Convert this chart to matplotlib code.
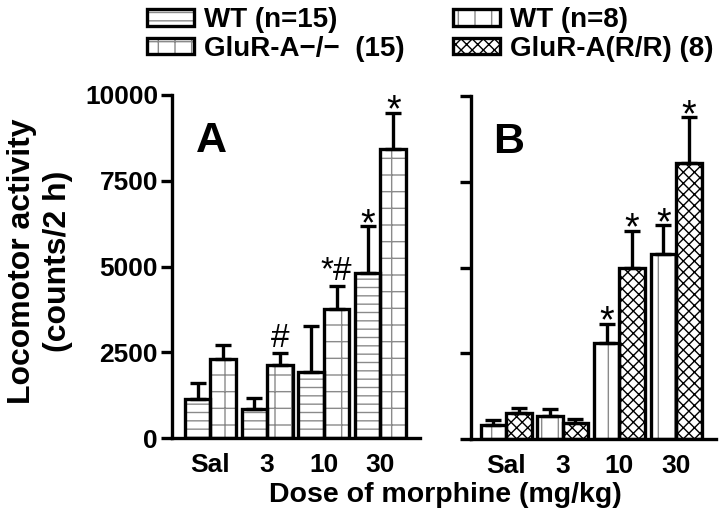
import matplotlib
matplotlib.use("Agg")
import matplotlib.pyplot as plt
import numpy as np

plt.rcParams["font.family"] = ["Liberation Sans", "DejaVu Sans"]
plt.rcParams["hatch.linewidth"] = 1.0

# ---- data --------------------------------------------------------------
doses = ["Sal", "3", "10", "30"]

a_wt = [1136, 854, 1913, 4806]
a_wt_err = [466, 311, 1339, 1378]
a_ko = [2311, 2136, 3757, 8417]
a_ko_err = [398, 340, 660, 1068]

b_wt = [407, 678, 2800, 5397]
b_wt_err = [145, 194, 562, 843]
b_rr = [746, 475, 4990, 8033]
b_rr_err = [165, 106, 1086, 1357]

a_wt_marks = ["", "", "", "*"]
a_ko_marks = ["", "#", "*#", "*"]
b_wt_marks = ["", "", "*", "*"]
b_rr_marks = ["", "", "*", "*"]

labels = ["WT (n=15)", "GluR-A\u2212/\u2212  (15)", "WT (n=8)", "GluR-A(R/R) (8)"]

yticks = [0, 2500, 5000, 7500, 10000]

# ---- style ---------------------------------------------------------------
LW = 2.4
BAR_W = 0.45
TICK_FS = 19


def draw_bars(ax, x, vals, errs, hatch, hcolor):
    ax.bar(x, vals, BAR_W, color="white", edgecolor=hcolor, linewidth=0,
           hatch=hatch, zorder=2)
    ax.bar(x, vals, BAR_W, fill=False, edgecolor="black", linewidth=LW,
           zorder=3)
    ax.errorbar(x, vals, yerr=[np.zeros(len(vals)), errs], fmt="none",
                ecolor="black", elinewidth=LW, capsize=6, capthick=LW,
                zorder=4)
    # legend handle: hatch layer + black outline, overlaid
    h1 = plt.Rectangle((0, 0), 1, 1, facecolor="white", edgecolor=hcolor,
                       linewidth=0, hatch=hatch)
    h2 = plt.Rectangle((0, 0), 1, 1, fill=False, edgecolor="black",
                       linewidth=LW)
    return (h1, h2)


def draw_marks(ax, x, vals, errs, marks):
    for xi, v, e, m in zip(x, vals, errs, marks):
        if not m:
            continue
        if "#" in m:
            off, fs = 4.5, 24
        else:
            off, fs = -6.5, 27
        ax.annotate(m, (xi, v + e), xytext=(0, off), textcoords="offset points",
                    ha="center", va="baseline", fontsize=fs, zorder=5)


def style_axis(ax, xlim, show_labels):
    ax.set_xlim(*xlim)
    ax.set_ylim(0, 10000)
    ax.set_yticks(yticks)
    ax.set_xticks(np.arange(1, 5))
    ax.set_xticklabels(doses)
    if not show_labels:
        ax.set_yticklabels([])
    for s in ("top", "right"):
        ax.spines[s].set_visible(False)
    for s in ("left", "bottom"):
        ax.spines[s].set_linewidth(LW)
    ax.tick_params(axis="y", length=8, width=LW, pad=2, labelsize=TICK_FS)
    ax.tick_params(axis="x", length=0, pad=11, labelsize=TICK_FS)
    for t in ax.get_xticklabels() + ax.get_yticklabels():
        t.set_fontweight("bold")


fig = plt.figure(figsize=(7.2, 5.22), dpi=100)
axA = fig.add_axes([172 / 720, 84 / 522, 248 / 720, 343 / 522])
axB = fig.add_axes([470.7 / 720, 83 / 522, 245.3 / 720, 343 / 522])

x = np.arange(1, 5)

# --- panel A ---------------------------------------------------------------
hA1 = draw_bars(axA, x - BAR_W / 2, a_wt, a_wt_err, "--", "#8a8a8a")
hA2 = draw_bars(axA, x + BAR_W / 2, a_ko, a_ko_err, "+", "#8a8a8a")
draw_marks(axA, x - BAR_W / 2, a_wt, a_wt_err, a_wt_marks)
draw_marks(axA, x + BAR_W / 2, a_ko, a_ko_err, a_ko_marks)
style_axis(axA, (0.321, 4.697), True)
axA.text(0.157, 0.834, "A", transform=axA.transAxes, fontsize=31,
         fontweight="bold", ha="center", va="baseline")

# --- panel B ---------------------------------------------------------------
hB1 = draw_bars(axB, x - BAR_W / 2, b_wt, b_wt_err, "|", "#8a8a8a")
hB2 = draw_bars(axB, x + BAR_W / 2, b_rr, b_rr_err, "xxx", "black")
draw_marks(axB, x - BAR_W / 2, b_wt, b_wt_err, b_wt_marks)
draw_marks(axB, x + BAR_W / 2, b_rr, b_rr_err, b_rr_marks)
style_axis(axB, (0.377, 4.705), False)
axB.text(0.156, 0.834, "B", transform=axB.transAxes, fontsize=31,
         fontweight="bold", ha="center", va="baseline")

# --- legend and axis titles ---------------------------------------------
fig.legend([hA1, hA2, hB1, hB2], labels, ncol=2, frameon=False,
           loc="upper left", bbox_to_anchor=(147 / 720, 1 - 7 / 522),
           borderpad=0, borderaxespad=0, handlelength=1.7, handleheight=0.55,
           handletextpad=0.35, columnspacing=1.75, labelspacing=0.1,
           prop={"size": 20, "weight": "bold"})

fig.text(40 / 720, 1 - 261 / 522, "Locomotor activity\n(counts/2 h)",
         rotation=90, ha="center", va="center", multialignment="center",
         fontsize=23, fontweight="bold", linespacing=1.25)
fig.text(445 / 720, 1 - 502 / 522, "Dose of morphine (mg/kg)",
         ha="center", va="baseline", fontsize=20.5, fontweight="bold")

fig.savefig("out.png", dpi=100)
